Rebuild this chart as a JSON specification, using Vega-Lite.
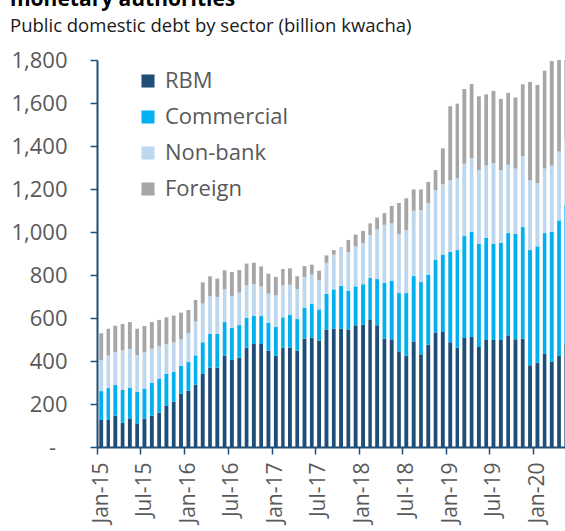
{
  "$schema": "https://vega.github.io/schema/vega-lite/v6.json",
  "autosize": {"type": "none"},
  "padding": {"left": 97, "top": 60, "right": 0, "bottom": 84},
  "width": 468,
  "height": 387,
  "background": "white",
  "title": {
    "text": "monetary authorities",
    "subtitle": "Public domestic debt by sector (billion kwacha)",
    "anchor": "start",
    "frame": "group",
    "dx": -87,
    "offset": 14,
    "font": "Open Sans",
    "fontSize": 21,
    "fontWeight": "bold",
    "color": "#000000",
    "subtitleFont": "Open Sans",
    "subtitleFontSize": 18.5,
    "subtitleColor": "#1a1a1a",
    "subtitlePadding": 7
  },
  "config": {"view": {"stroke": null}, "font": "Open Sans"},
  "data": {"values": [
    {"month": "2015-01", "RBM": 126, "Commercial": 134, "Non-bank": 145, "Foreign": 124},
    {"month": "2015-02", "RBM": 126, "Commercial": 148, "Non-bank": 152, "Foreign": 124},
    {"month": "2015-03", "RBM": 146, "Commercial": 142, "Non-bank": 154, "Foreign": 122},
    {"month": "2015-04", "RBM": 113, "Commercial": 152, "Non-bank": 185, "Foreign": 122},
    {"month": "2015-05", "RBM": 133, "Commercial": 143, "Non-bank": 180, "Foreign": 125},
    {"month": "2015-06", "RBM": 110, "Commercial": 146, "Non-bank": 172, "Foreign": 122},
    {"month": "2015-07", "RBM": 132, "Commercial": 139, "Non-bank": 171, "Foreign": 121},
    {"month": "2015-08", "RBM": 146, "Commercial": 153, "Non-bank": 158, "Foreign": 124},
    {"month": "2015-09", "RBM": 160, "Commercial": 158, "Non-bank": 152, "Foreign": 121},
    {"month": "2015-10", "RBM": 191, "Commercial": 149, "Non-bank": 139, "Foreign": 124},
    {"month": "2015-11", "RBM": 211, "Commercial": 139, "Non-bank": 137, "Foreign": 124},
    {"month": "2015-12", "RBM": 248, "Commercial": 130, "Non-bank": 123, "Foreign": 124},
    {"month": "2016-01", "RBM": 262, "Commercial": 133, "Non-bank": 135, "Foreign": 107},
    {"month": "2016-02", "RBM": 290, "Commercial": 136, "Non-bank": 158, "Foreign": 100},
    {"month": "2016-03", "RBM": 340, "Commercial": 147, "Non-bank": 180, "Foreign": 99},
    {"month": "2016-04", "RBM": 369, "Commercial": 157, "Non-bank": 175, "Foreign": 93},
    {"month": "2016-05", "RBM": 369, "Commercial": 157, "Non-bank": 172, "Foreign": 85},
    {"month": "2016-06", "RBM": 425, "Commercial": 156, "Non-bank": 154, "Foreign": 87},
    {"month": "2016-07", "RBM": 405, "Commercial": 150, "Non-bank": 146, "Foreign": 113},
    {"month": "2016-08", "RBM": 416, "Commercial": 151, "Non-bank": 151, "Foreign": 105},
    {"month": "2016-09", "RBM": 462, "Commercial": 138, "Non-bank": 152, "Foreign": 101},
    {"month": "2016-10", "RBM": 479, "Commercial": 132, "Non-bank": 147, "Foreign": 99},
    {"month": "2016-11", "RBM": 479, "Commercial": 130, "Non-bank": 138, "Foreign": 93},
    {"month": "2016-12", "RBM": 448, "Commercial": 129, "Non-bank": 136, "Foreign": 93},
    {"month": "2017-01", "RBM": 425, "Commercial": 133, "Non-bank": 147, "Foreign": 86},
    {"month": "2017-02", "RBM": 462, "Commercial": 141, "Non-bank": 150, "Foreign": 75},
    {"month": "2017-03", "RBM": 462, "Commercial": 152, "Non-bank": 141, "Foreign": 76},
    {"month": "2017-04", "RBM": 448, "Commercial": 147, "Non-bank": 140, "Foreign": 59},
    {"month": "2017-05", "RBM": 504, "Commercial": 144, "Non-bank": 143, "Foreign": 51},
    {"month": "2017-06", "RBM": 509, "Commercial": 156, "Non-bank": 137, "Foreign": 46},
    {"month": "2017-07", "RBM": 495, "Commercial": 145, "Non-bank": 137, "Foreign": 43},
    {"month": "2017-08", "RBM": 545, "Commercial": 168, "Non-bank": 144, "Foreign": 34},
    {"month": "2017-09", "RBM": 550, "Commercial": 183, "Non-bank": 162, "Foreign": 21},
    {"month": "2017-10", "RBM": 550, "Commercial": 200, "Non-bank": 174, "Foreign": 4},
    {"month": "2017-11", "RBM": 546, "Commercial": 181, "Non-bank": 180, "Foreign": 56},
    {"month": "2017-12", "RBM": 566, "Commercial": 181, "Non-bank": 186, "Foreign": 55},
    {"month": "2018-01", "RBM": 569, "Commercial": 188, "Non-bank": 192, "Foreign": 56},
    {"month": "2018-02", "RBM": 591, "Commercial": 195, "Non-bank": 200, "Foreign": 54},
    {"month": "2018-03", "RBM": 566, "Commercial": 215, "Non-bank": 231, "Foreign": 55},
    {"month": "2018-04", "RBM": 504, "Commercial": 260, "Non-bank": 270, "Foreign": 54},
    {"month": "2018-05", "RBM": 501, "Commercial": 273, "Non-bank": 266, "Foreign": 81},
    {"month": "2018-06", "RBM": 445, "Commercial": 271, "Non-bank": 273, "Foreign": 146},
    {"month": "2018-07", "RBM": 425, "Commercial": 291, "Non-bank": 293, "Foreign": 148},
    {"month": "2018-08", "RBM": 491, "Commercial": 304, "Non-bank": 304, "Foreign": 99},
    {"month": "2018-09", "RBM": 431, "Commercial": 336, "Non-bank": 335, "Foreign": 96},
    {"month": "2018-10", "RBM": 476, "Commercial": 324, "Non-bank": 335, "Foreign": 98},
    {"month": "2018-11", "RBM": 533, "Commercial": 337, "Non-bank": 325, "Foreign": 93},
    {"month": "2018-12", "RBM": 535, "Commercial": 360, "Non-bank": 328, "Foreign": 166},
    {"month": "2019-01", "RBM": 487, "Commercial": 421, "Non-bank": 332, "Foreign": 345},
    {"month": "2019-02", "RBM": 462, "Commercial": 454, "Non-bank": 335, "Foreign": 346},
    {"month": "2019-03", "RBM": 507, "Commercial": 474, "Non-bank": 337, "Foreign": 347},
    {"month": "2019-04", "RBM": 512, "Commercial": 488, "Non-bank": 344, "Foreign": 344},
    {"month": "2019-05", "RBM": 465, "Commercial": 479, "Non-bank": 343, "Foreign": 344},
    {"month": "2019-06", "RBM": 498, "Commercial": 474, "Non-bank": 338, "Foreign": 330},
    {"month": "2019-07", "RBM": 498, "Commercial": 448, "Non-bank": 375, "Foreign": 335},
    {"month": "2019-08", "RBM": 498, "Commercial": 451, "Non-bank": 338, "Foreign": 332},
    {"month": "2019-09", "RBM": 519, "Commercial": 476, "Non-bank": 318, "Foreign": 334},
    {"month": "2019-10", "RBM": 501, "Commercial": 490, "Non-bank": 304, "Foreign": 331},
    {"month": "2019-11", "RBM": 504, "Commercial": 519, "Non-bank": 329, "Foreign": 335},
    {"month": "2019-12", "RBM": 380, "Commercial": 536, "Non-bank": 324, "Foreign": 458},
    {"month": "2020-01", "RBM": 392, "Commercial": 541, "Non-bank": 295, "Foreign": 456},
    {"month": "2020-02", "RBM": 433, "Commercial": 562, "Non-bank": 300, "Foreign": 455},
    {"month": "2020-03", "RBM": 397, "Commercial": 603, "Non-bank": 309, "Foreign": 486},
    {"month": "2020-04", "RBM": 423, "Commercial": 631, "Non-bank": 320, "Foreign": 426},
    {"month": "2020-05", "RBM": 479, "Commercial": 648, "Non-bank": 302, "Foreign": 371}
  ]},
  "transform": [
    {"fold": ["RBM", "Commercial", "Non-bank", "Foreign"], "as": ["sector", "value"]},
    {"calculate": "indexof(['RBM', 'Commercial', 'Non-bank', 'Foreign'], datum.sector)", "as": "stackOrder"}
  ],
  "mark": {"type": "bar", "width": {"band": 0.66}, "clip": true},
  "encoding": {
    "x": {
      "field": "month",
      "timeUnit": "utcyearmonth",
      "type": "temporal",
      "scale": {"domain": [
        {"year": 2015, "month": 1, "date": 1, "utc": true},
        {"year": 2020, "month": 5, "date": 13, "utc": true}
      ]},
      "axis": {
        "title": null,
        "values": [
          {"year": 2015, "month": 1, "date": 1, "utc": true},
          {"year": 2015, "month": 7, "date": 1, "utc": true},
          {"year": 2016, "month": 1, "date": 1, "utc": true},
          {"year": 2016, "month": 7, "date": 1, "utc": true},
          {"year": 2017, "month": 1, "date": 1, "utc": true},
          {"year": 2017, "month": 7, "date": 1, "utc": true},
          {"year": 2018, "month": 1, "date": 1, "utc": true},
          {"year": 2018, "month": 7, "date": 1, "utc": true},
          {"year": 2019, "month": 1, "date": 1, "utc": true},
          {"year": 2019, "month": 7, "date": 1, "utc": true},
          {"year": 2020, "month": 1, "date": 1, "utc": true}
        ],
        "format": "%b-%y",
        "labelAngle": -90,
        "labelFont": "Open Sans",
        "labelFontSize": 21,
        "labelColor": "#595959",
        "labelPadding": 8,
        "labelOffset": 4,
        "labelFlush": false,
        "labelOverlap": false,
        "tickSize": 7,
        "tickWidth": 1.5,
        "tickColor": "#1f4e79",
        "domainColor": "#1f4e79",
        "domainWidth": 2,
        "grid": false
      }
    },
    "y": {
      "field": "value",
      "type": "quantitative",
      "stack": "zero",
      "scale": {"domain": [0, 1800], "nice": false},
      "axis": {
        "title": null,
        "values": [0, 200, 400, 600, 800, 1000, 1200, 1400, 1600, 1800],
        "labelExpr": "datum.value == 0 ? '-\u00a0\u00a0\u200b' : format(datum.value, ',')",
        "labelFont": "Open Sans",
        "labelFontSize": 22,
        "labelColor": "#595959",
        "labelPadding": 23,
        "tickSize": 7,
        "tickWidth": 1.5,
        "tickColor": "#1f4e79",
        "domainColor": "#1f4e79",
        "domainWidth": 2,
        "grid": false
      }
    },
    "order": {"field": "stackOrder", "type": "quantitative", "sort": "ascending"},
    "color": {
      "field": "sector",
      "type": "nominal",
      "sort": ["RBM", "Commercial", "Non-bank", "Foreign"],
      "scale": {
        "domain": ["RBM", "Commercial", "Non-bank", "Foreign"],
        "range": ["#1f4e79", "#00b0f0", "#bdd7ee", "#a6a6a6"]
      },
      "legend": {
        "title": null,
        "orient": "none",
        "legendX": 40,
        "legendY": 10,
        "symbolType": "square",
        "symbolSize": 170,
        "symbolStrokeWidth": 0,
        "symbolOpacity": 1,
        "labelFont": "Open Sans",
        "labelFontSize": 22,
        "labelColor": "#595959",
        "labelOffset": 6,
        "rowPadding": 14
      }
    }
  }
}
